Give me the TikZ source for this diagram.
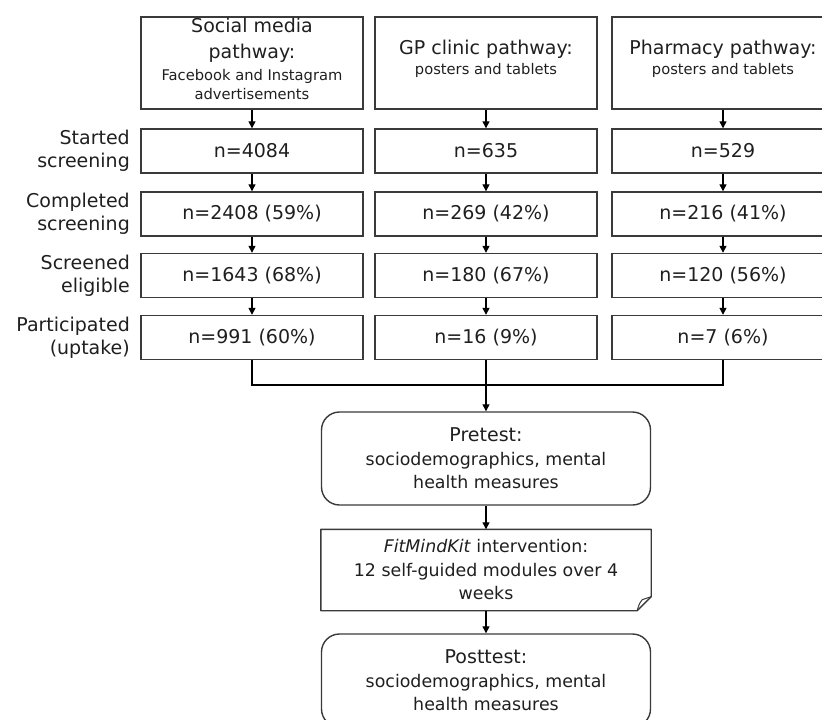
\documentclass[tikz,border=0pt]{standalone}
\usepackage{fontspec}
\setmainfont{DejaVu Sans}
\usepackage{tikz}
\usetikzlibrary{arrows.meta,positioning}
\definecolor{ink}{HTML}{1F1F1F}
\definecolor{frame}{HTML}{3A3A3A}
\tikzset{pathbox/.style={draw=frame,line width=1.4pt,minimum width=222pt,minimum height=92pt,inner sep=2pt,align=center,text=ink,font=\fontsize{19}{26}\selectfont},
 countbox/.style={draw=frame,line width=1.4pt,minimum width=222pt,minimum height=44pt,inner sep=2pt,text=ink,font=\fontsize{19}{23}\selectfont},
 stagelabel/.style={anchor=east,align=right,inner sep=0pt,text=ink,font=\fontsize{19}{23}\selectfont},
 flowbox/.style={draw=frame,line width=1.4pt,minimum width=329pt,inner sep=2pt,align=center,text=ink,font=\fontsize{17.4}{23.5}\selectfont},
 outline/.style={draw=frame,line width=1.4pt,line join=round},
 arr/.style={-{Triangle[length=7pt,width=7pt]},draw=black,line width=1.3pt},
 joinline/.style={draw=black,line width=1.3pt}}
\newcommand{\subfont}{\fontsize{14.7}{19}\selectfont}
\newcommand{\headfont}{\fontsize{19}{23}\selectfont}

\begin{document}
\begin{tikzpicture}[x=1pt,y=-1pt]
 \useasboundingbox (0,0) rectangle (822,720); \clip (0,0) rectangle (822,720);
 % pathways
 \node[pathbox] (soc) at (252,63) {\\[-20pt]Social media\\pathway:\\[-4pt]{\subfont Facebook and Instagram}\\[-7pt]{\subfont advertisements}};
 \node[pathbox] (gp) at (486,63) {\\[-20pt]GP clinic pathway:\\[-6pt]{\subfont posters and tablets}};
 \node[pathbox] (ph) at (723,63) {\\[-20pt]Pharmacy pathway:\\[-6pt]{\subfont posters and tablets}};
 % stages
 \node[countbox] (s1) at (252,151) {n=4084}; \node[countbox] (g1) at (486,151) {n=635}; \node[countbox] (p1) at (723,151) {n=529};
 \node[countbox] (s2) at (252,214) {n=2408 (59\%)}; \node[countbox] (g2) at (486,214) {n=269 (42\%)}; \node[countbox] (p2) at (723,214) {n=216 (41\%)};
 \node[countbox] (s3) at (252,275.5) {n=1643 (68\%)}; \node[countbox] (g3) at (486,275.5) {n=180 (67\%)}; \node[countbox] (p3) at (723,275.5) {n=120 (56\%)};
 \node[countbox] (s4) at (252,337.5) {n=991 (60\%)}; \node[countbox] (g4) at (486,337.5) {n=16 (9\%)}; \node[countbox] (p4) at (723,337.5) {n=7 (6\%)};
 \node[stagelabel] (l1) at (130,151) {Started\\screening};
 \node[stagelabel] (l2) at (130,214) {Completed\\screening};
 \node[stagelabel] (l3) at (130,275.5) {Screened\\eligible};
 \node[stagelabel] (l4) at (130,337.5) {Participated\\(uptake)};
 \draw[arr] (soc) -- (s1); \draw[arr] (s1) -- (s2); \draw[arr] (s2) -- (s3); \draw[arr] (s3) -- (s4);
 \draw[arr] (gp) -- (g1); \draw[arr] (g1) -- (g2); \draw[arr] (g2) -- (g3); \draw[arr] (g3) -- (g4);
 \draw[arr] (ph) -- (p1); \draw[arr] (p1) -- (p2); \draw[arr] (p2) -- (p3); \draw[arr] (p3) -- (p4);
 % study flow
 \node[flowbox,rounded corners=18pt,minimum height=93pt] (pre) at (486,458.5) {{\headfont Pretest:}\\sociodemographics, mental\\health measures};
 \node[flowbox,draw=none,minimum height=80pt] (int) at (486,570) {\textit{FitMindKit} intervention:\\12 self-guided modules over 4\\weeks};
 \draw[outline] (int.north west) -- (int.north east) -- ([yshift=14pt]int.south east) -- ([xshift=-14pt]int.south east) -- (int.south west) -- cycle;
 \draw[outline,line width=1pt] ([xshift=-14pt]int.south east) .. controls ([shift={(-12pt,7pt)}]int.south east) .. ([shift={(-9pt,11pt)}]int.south east) -- ([yshift=14pt]int.south east);
 \node[flowbox,rounded corners=18pt,minimum height=93pt] (post) at (486,680.5) {{\headfont Posttest:}\\sociodemographics, mental\\health measures};
 \coordinate (mrg) at (486,385);
 \draw[joinline] (s4.south) |- (mrg) -| (p4.south); \draw[joinline] (g4.south) -- (mrg);
 \draw[arr] (mrg) -- (pre.north); \draw[arr] (pre) -- (int); \draw[arr] (int) -- (post);
 \end{tikzpicture}
\end{document}
